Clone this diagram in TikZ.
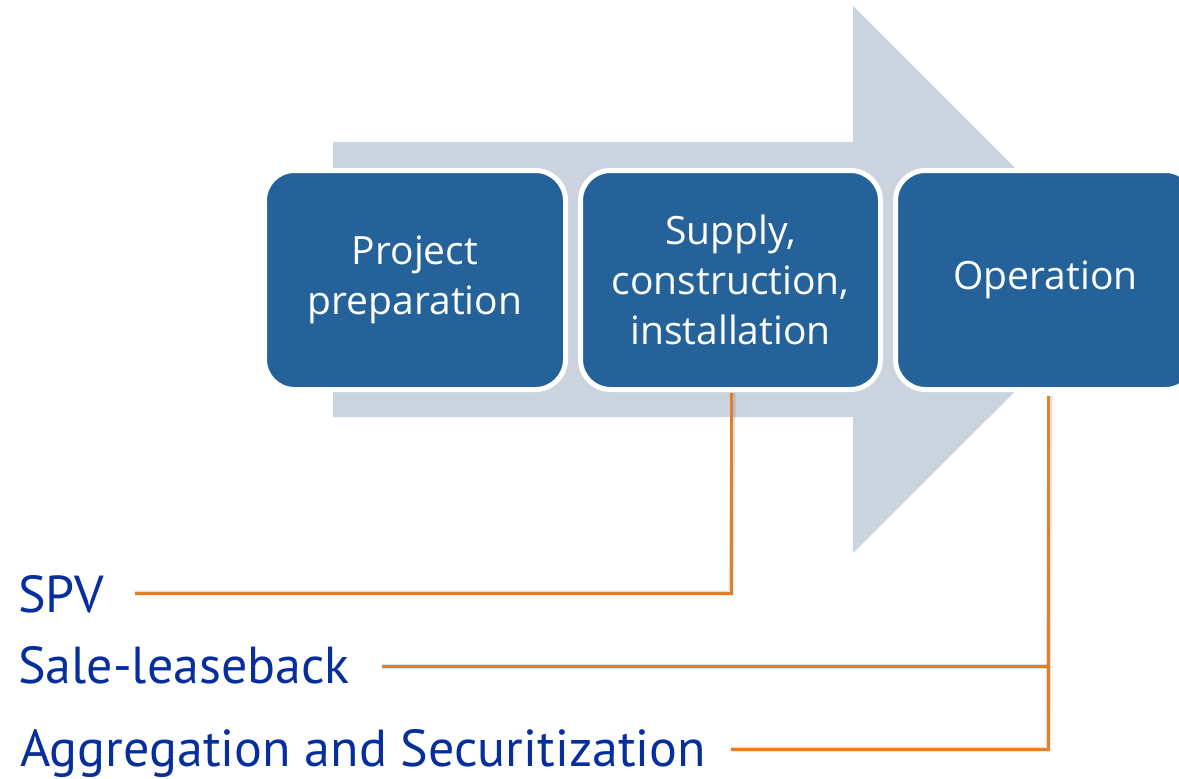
\documentclass[tikz,border=0pt]{standalone}
\usepackage{fontspec}
\setmainfont{Open Sans}
\newfontfamily\labelfont{PT Sans}
\definecolor{boxblue}{RGB}{36,98,153}
\definecolor{arrowgray}{RGB}{203,211,223}
\definecolor{lineorange}{RGB}{232,126,34}
\definecolor{labelblue}{RGB}{6,46,156}
\tikzset{
  stagebox/.style={rectangle, rounded corners=30pt, fill=boxblue, draw=white, line width=5pt,
    text=white, align=center, inner sep=0pt, font=\fontsize{39}{50}\selectfont},
  lbl/.style={anchor=base west, inner sep=0pt, text=labelblue, font=\labelfont\fontsize{52}{60}\selectfont},
  conn/.style={draw=lineorange, line width=3pt},
  connshadow/.style={draw=black, opacity=0.12, line width=5pt}
}
\begin{document}
\begin{tikzpicture}[x=1pt,y=-1pt]
\useasboundingbox (0,0) rectangle (1179,779);
\clip (0,0) rectangle (1179,779);
% big arrow
\fill[arrowgray] (333,142) -- (853,142) -- (853,6) -- (1127,280) -- (853,553) -- (853,417) -- (333,417) -- cycle;
% labels
\node[lbl] (spv) at (18,612) {SPV};
\node[lbl] (slb) at (18,683) {Sale-leaseback};
\node[lbl] (agg) at (20,766) {Aggregation and Securitization};
% connector coordinates
\coordinate (c1) at (731,593);
\coordinate (c2) at (1048,666);
\coordinate (c3) at (1048,749);
\coordinate (s1) at (135,593);
\coordinate (s2) at (382,666);
\coordinate (s3) at (731,749);
% box centres
\path (415,280) coordinate (b1c) (730.5,280) coordinate (b2c) (1045.5,280) coordinate (b3c);
% shadows
\begin{scope}[shift={(2,3)}]
\draw[connshadow] (731,390) -- (c1) -- (s1);
\draw[connshadow] (1048,393) -- (c3) -- (s3);
\draw[connshadow] (c2) -- (s2);
\end{scope}
% boxes
\node[stagebox, minimum width=301pt, minimum height=219pt] (b1) at (b1c) {Project\\preparation};
\node[stagebox, minimum width=300pt, minimum height=219pt] (b2) at (b2c) {Supply,\\construction,\\installation};
\node[stagebox, minimum width=300pt, minimum height=219pt] (b3) at (b3c) {Operation};
% connectors
\draw[conn] ([yshift=-1pt]b2.south -| c1) -- (c1) -- (s1);
\draw[conn] ([yshift=-4pt]b3.south -| c3) -- (c3) -- (s3);
\draw[conn] (c2) -- (s2);
\end{tikzpicture}
\end{document}
